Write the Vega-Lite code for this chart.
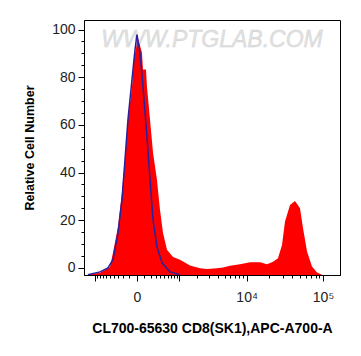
{
  "$schema": "https://vega.github.io/schema/vega-lite/v6.json",
  "autosize": {"type": "none"},
  "padding": {"left": 84, "top": 20, "right": 21, "bottom": 81},
  "width": 256,
  "height": 255,
  "background": "white",
  "config": {
    "view": {"stroke": "#000000", "strokeWidth": 1},
    "font": "Liberation Sans"
  },
  "datasets": {
    "sample": [
      {"x": -1316, "count": -2.9}, {"x": -800, "count": -2.1}, {"x": -492, "count": 0.4},
      {"x": -416, "count": 6.3}, {"x": -303, "count": 17.2}, {"x": -225, "count": 31.5},
      {"x": -171, "count": 45.4}, {"x": -123, "count": 62.2}, {"x": -64, "count": 76},
      {"x": -37, "count": 87.4}, {"x": 0, "count": 94.5}, {"x": 12, "count": 96.2},
      {"x": 64, "count": 90.3}, {"x": 78, "count": 83.2}, {"x": 123, "count": 83.2},
      {"x": 138, "count": 76}, {"x": 189, "count": 62.2}, {"x": 244, "count": 48.3},
      {"x": 324, "count": 37}, {"x": 392, "count": 24.4}, {"x": 466, "count": 14.7},
      {"x": 575, "count": 7.6}, {"x": 766, "count": 4.6}, {"x": 1035, "count": 3.4},
      {"x": 1532, "count": 1.0}, {"x": 2200, "count": -0.2}, {"x": 2800, "count": -0.5},
      {"x": 3908, "count": -0.2}, {"x": 4752, "count": 0.1}, {"x": 5940, "count": 0.9},
      {"x": 8132, "count": 1.5}, {"x": 11084, "count": 2.3}, {"x": 15056, "count": 2.3},
      {"x": 18620, "count": 1.5}, {"x": 22360, "count": 2.6}, {"x": 25960, "count": 4},
      {"x": 29320, "count": 9.6}, {"x": 32080, "count": 19.5}, {"x": 37280, "count": 26.4},
      {"x": 43320, "count": 28.1}, {"x": 50320, "count": 25}, {"x": 55080, "count": 16.6},
      {"x": 62080, "count": 6.9}, {"x": 72040, "count": 0.6}, {"x": 83680, "count": -1.9},
      {"x": 97120, "count": -2.9}
    ],
    "control": [
      {"x": -1316, "count": -2.9}, {"x": -800, "count": -1.7}, {"x": -547, "count": 0},
      {"x": -416, "count": 3.4}, {"x": -303, "count": 14.7}, {"x": -225, "count": 28.6},
      {"x": -171, "count": 45.4}, {"x": -123, "count": 62.2}, {"x": -64, "count": 79},
      {"x": -24, "count": 91.6}, {"x": 0, "count": 97.9}, {"x": 37, "count": 90.3},
      {"x": 78, "count": 76}, {"x": 138, "count": 55}, {"x": 189, "count": 37},
      {"x": 244, "count": 20.2}, {"x": 324, "count": 8.8}, {"x": 441, "count": 2.1},
      {"x": 666, "count": -1.7}, {"x": 1035, "count": -2.9}
    ],
    "mark": [
      {"x": 3316, "count": 95.8, "text": "WWW.PTGLAB.COM"}
    ]
  },
  "encoding": {
    "x": {
      "field": "x",
      "type": "quantitative",
      "scale": {"type": "symlog", "constant": 400, "domain": [-1530, 166000], "nice": false},
      "axis": {
        "title": "CL700-65630 CD8(SK1),APC-A700-A",
        "titleFont": "Liberation Sans",
        "titleFontSize": 14,
        "titleFontWeight": "bold",
        "titleColor": "#000000",
        "titlePadding": 17,
        "values": [-1000, -900, -800, -700, -600, -500, -400, -300, -200, -100, 0, 100, 200, 300, 400, 500, 600, 700, 800, 900, 1000, 2000, 3000, 4000, 5000, 6000, 7000, 8000, 9000, 10000, 20000, 30000, 40000, 50000, 60000, 70000, 80000, 90000, 100000],
        "labelExpr": "datum.value == 0 ? '0' : datum.value == 10000 ? '10⁴' : datum.value == 100000 ? '10⁵' : ''",
        "labelFont": "Liberation Sans",
        "labelFontSize": 14,
        "labelColor": "#222222",
        "labelPadding": 9,
        "labelOverlap": false,
        "labelFlush": false,
        "tickColor": "#000000",
        "tickSize": {"condition": {"test": "indexof([-1000, 0, 1000, 10000, 100000], datum.value) >= 0", "value": 6}, "value": 3},
        "tickWidth": 1,
        "domainColor": "#000000",
        "grid": false
      }
    },
    "y": {
      "field": "count",
      "type": "quantitative",
      "scale": {"domain": [-3, 104], "nice": false, "zero": false},
      "axis": {
        "title": "Relative Cell Number",
        "titleFont": "Liberation Sans",
        "titleFontSize": 12.5,
        "titleFontWeight": "bold",
        "titleColor": "#000000",
        "titlePadding": 15,
        "values": [0, 5, 10, 15, 20, 25, 30, 35, 40, 45, 50, 55, 60, 65, 70, 75, 80, 85, 90, 95, 100],
        "labelExpr": "datum.value % 20 == 0 ? datum.label : ''",
        "labelFont": "Liberation Sans",
        "labelFontSize": 14,
        "labelColor": "#222222",
        "labelPadding": 3,
        "tickColor": "#000000",
        "tickSize": {"condition": {"test": "datum.value % 20 == 0", "value": 6}, "value": 3},
        "domainColor": "#000000",
        "grid": false
      }
    }
  },
  "layer": [
    {
      "data": {"name": "mark"},
      "mark": {"type": "text", "fontSize": 23, "fontStyle": "italic", "font": "Liberation Sans", "color": "#e2e2e2", "stroke": "#d0d0d0", "strokeWidth": 0.4},
      "encoding": {"text": {"field": "text"}}
    },
    {
      "data": {"name": "sample"},
      "mark": {"type": "area", "color": "#ff0000", "clip": true},
      "encoding": {"y2": {"datum": -3}}
    },
    {
      "data": {"name": "control"},
      "mark": {"type": "line", "color": "#2a1f9c", "strokeWidth": 1.5, "clip": true},
      "encoding": {}
    }
  ]
}
